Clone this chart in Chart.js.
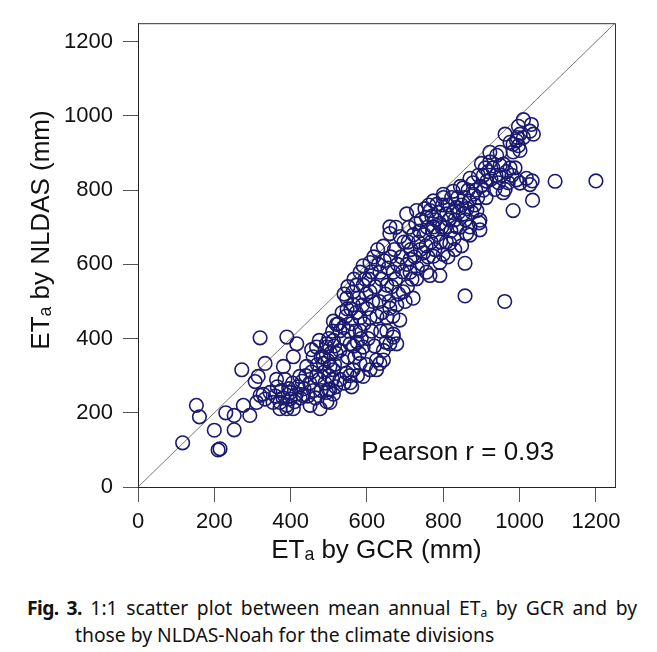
<!DOCTYPE html>
<html>
<head>
<meta charset="utf-8">
<script src="https://cdn.jsdelivr.net/npm/chart.js@4.4.1/dist/chart.umd.min.js"></script>
<style>
body{margin:0;background:#fff;width:657px;height:652px;overflow:hidden;position:relative;}
#wrap{position:absolute;left:0;top:0;width:657px;height:575px;}
.cap{position:absolute;font-family:"Noto Sans",sans-serif;font-size:19.3px;color:#111;white-space:nowrap;line-height:24px;}
.cap sub{font-size:12px;vertical-align:-2px;}
.cap b{letter-spacing:-0.6px;}
#l1{width:610px;white-space:normal;text-align:justify;text-align-last:justify;}
</style>
</head>
<body>
<div id="wrap"><canvas id="c" width="657" height="575"></canvas></div>
<div class="cap" id="l1" style="left:27px;top:596px"><b>Fig. 3.</b> 1:1 scatter plot between mean annual ET<sub>a</sub> by GCR and by</div>
<div class="cap" style="left:75px;top:623px">those by NLDAS-Noah for the climate divisions</div>
<script>
// mean annual ETa per climate division (mm)
var gcr = [
  // sparse low end
  117,153,161,200,210,215,230,252,252,272,276,293,307,311,315,320,320,328,333,333,346,354,363,372,372,381,390,390,390,398,407,407,416,424,433,442,451,459,468,468,477,494,494,503,503,503,520,
  360,365,375,380,385,395,400,405,410,415,420,425,430,435,440,445,450,455,460,465,470,475,480,485,488,490,495,498,500,505,510,512,515,518,455,475,480,500,510,525,515,
  // 500-600
  486,494,499,512,512,512,520,529,529,529,547,547,556,556,564,564,564,573,582,582,582,582,590,590,590,590,
  535,540,545,550,552,555,558,560,565,568,570,572,575,578,580,585,588,592,595,598,598,540,560,548,538,575,566,540,550,535,
  // 600-700
  608,608,608,608,625,625,634,634,643,643,643,652,652,652,660,660,660,660,669,669,669,678,678,687,695,
  600,603,605,612,615,618,620,622,626,630,632,636,638,640,645,648,650,655,658,662,665,668,672,675,680,683,686,690,693,697,700,612,628,676,
  // 700-800
  704,713,713,721,730,730,748,756,756,765,765,774,774,774,783,791,791,791,800,800,800,
  705,708,710,715,718,722,725,728,732,735,738,740,742,745,750,752,755,758,760,762,768,770,772,778,780,785,788,793,796,798,706,
  // 800-900
  809,817,826,835,835,852,852,857,857,861,870,870,870,879,888,894,896,896,900,
  805,808,812,815,820,822,825,828,830,838,840,843,845,848,855,858,862,865,868,875,878,882,885,890,892,898,812,830,848,
  // 900 and up
  914,922,922,935,940,949,949,957,962,962,966,975,983,983,983,992,992,994,997,997,1001,1001,1001,1010,1010,1018,1027,1027,1031,1033,1034,1036,1093,1200,961,
  905,910,918,925,930,938,945,952,958,970,975,980,988,905,912
];
var nldas = [
  119,220,189,153,100,103,200,193,154,316,220,193,284,228,298,247,402,250,237,333,255,228,290,211,228,325,211,220,404,237,211,351,386,298,246,325,220,351,298,377,211,386,255,263,325,228,360,
  245,270,260,240,290,265,255,280,230,250,270,240,285,265,300,245,280,310,260,240,330,290,260,350,310,280,230,340,300,360,290,250,330,270,370,395,350,400,420,440,380,
  333,377,263,316,395,447,438,421,368,290,307,509,386,281,316,491,526,544,421,333,456,579,377,298,544,596,
  340,400,460,350,420,300,480,440,380,350,420,470,300,510,360,400,490,440,560,330,520,280,270,480,430,390,560,520,540,470,
  316,456,526,605,316,342,333,579,368,342,649,421,456,544,386,482,683,701,404,412,579,386,491,675,526,
  480,400,560,420,500,620,380,540,460,600,500,420,560,470,610,520,390,590,500,620,540,460,640,560,600,520,450,620,580,660,500,580,640,700,
  736,579,614,509,561,745,631,579,727,570,745,622,701,771,762,570,605,710,627,780,789,
  600,660,700,640,560,680,620,710,590,660,690,640,720,600,680,750,650,700,620,760,660,730,690,640,720,680,740,660,700,760,540,
  736,657,797,754,701,806,736,603,515,683,679,701,832,789,745,712,693,719,872,
  700,660,760,720,690,780,740,670,720,780,740,700,810,760,780,720,750,800,770,740,820,760,800,780,840,810,620,640,650,
  824,876,902,802,894,867,902,793,802,951,850,929,745,903,924,828,933,942,920,972,819,907,951,990,942,832,959,815,977,825,773,951,824,825,500,
  840,860,850,830,860,840,820,840,870,820,860,840,860,800,780
];
var axisMin = 0, axisMax = 1250, tickStep = 200;
var pearsonText = 'Pearson r = 0.93';
var yTitle = 'ETₐ by NLDAS (mm)';

var points = [];
for (let i = 0; i < gcr.length; i++) {
  points.push({x: gcr[i], y: nldas[i]});
}

var frame = {
  id: 'frame',
  afterDraw: function(chart) {
    const ctx = chart.ctx, a = chart.chartArea;
    ctx.save();
    ctx.strokeStyle = '#333';
    ctx.lineWidth = 1;
    ctx.beginPath();
    ctx.moveTo(a.left, a.top + 0.5);
    ctx.lineTo(a.right + 0.5, a.top + 0.5);
    ctx.lineTo(a.right + 0.5, a.bottom);
    ctx.stroke();
    ctx.fillStyle = '#111';
    ctx.font = '26px "Liberation Sans", Arial, sans-serif';
    ctx.textAlign = 'center';
    ctx.textBaseline = 'middle';
    ctx.fillText(pearsonText, chart.scales.x.getPixelForValue(838), chart.scales.y.getPixelForValue(92));
    // y title, sits a bit above the plot centre in the original
    ctx.font = '26px "Liberation Sans", "DejaVu Sans", Arial, sans-serif';
    ctx.translate(42, 230);
    ctx.rotate(-Math.PI / 2);
    ctx.fillText(yTitle, 0, 0);
    ctx.restore();
  }
};

var tickFont = {family: '"Liberation Sans", Arial, sans-serif', size: 22};
var titleFont = {family: '"Liberation Sans", "DejaVu Sans", Arial, sans-serif', size: 26};
var plainTick = function(v) { return String(v); };

new Chart(document.getElementById('c'), {
  type: 'scatter',
  data: {
    datasets: [
      {
        data: points,
        borderColor: '#1a1a70',
        backgroundColor: 'rgba(0,0,0,0)',
        borderWidth: 1.6,
        pointRadius: 6.8,
        pointHoverRadius: 6.8
      },
      {
        data: [{x: axisMin, y: axisMin}, {x: axisMax, y: axisMax}],
        showLine: true,
        borderColor: '#555',
        borderWidth: 0.8,
        pointRadius: 0
      }
    ]
  },
  options: {
    responsive: false,
    animation: false,
    layout: {padding: {top: 11, right: 42, left: 0, bottom: 0}},
    plugins: {legend: {display: false}, tooltip: {enabled: false}},
    scales: {
      x: {
        type: 'linear',
        min: axisMin, max: axisMax,
        ticks: {stepSize: tickStep, includeBounds: false, font: tickFont, color: '#111', padding: 7, maxRotation: 0, callback: plainTick},
        grid: {drawOnChartArea: false, tickLength: 15, tickColor: '#555'},
        border: {color: '#222'},
        title: {display: true, text: 'ETₐ by GCR (mm)', font: titleFont, color: '#111', padding: {top: 0, bottom: 9}},
        afterFit: function(s) { s.height = 88; }
      },
      y: {
        type: 'linear',
        min: axisMin, max: axisMax,
        ticks: {stepSize: tickStep, includeBounds: false, font: tickFont, color: '#111', padding: 10, callback: plainTick},
        grid: {drawOnChartArea: false, tickLength: 15, tickColor: '#555'},
        border: {color: '#222'},
        afterFit: function(s) { s.width = 138; }
      }
    }
  },
  plugins: [frame]
});
</script>
</body>
</html>
